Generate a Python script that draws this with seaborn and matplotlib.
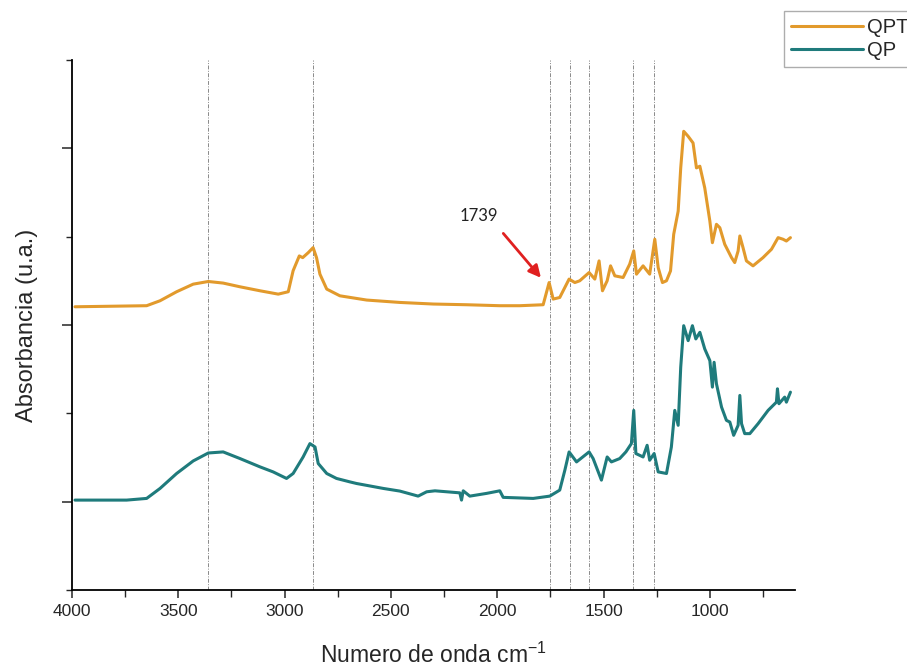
import numpy as np
import pandas as pd
import matplotlib
matplotlib.use("Agg")
import matplotlib.pyplot as plt
from matplotlib.ticker import MultipleLocator, FixedLocator, NullFormatter
import seaborn as sns

# FTIR spectra (wavenumber in cm-1, absorbance in arbitrary units)
qpt_wn = [3986, 3649, 3586, 3508, 3430, 3359, 3289, 3210, 3116, 3030, 2983, 2960, 2931, 2915,
          2889, 2866, 2850, 2834, 2802, 2740, 2614, 2458, 2301, 2144, 1988, 1894, 1784, 1756,
          1737, 1706, 1662, 1635, 1612, 1568, 1541, 1521, 1505, 1483, 1467, 1447, 1408, 1377,
          1358, 1345, 1314, 1283, 1259, 1243, 1223, 1204, 1185, 1170, 1149, 1137, 1123, 1102,
          1079, 1063, 1047, 1024, 1000, 988, 969, 953, 930, 898, 883, 867, 859, 844, 828, 797,
          750, 710, 679, 656, 640, 621]
qpt_abs = [3.206, 3.218, 3.274, 3.376, 3.462, 3.492, 3.474, 3.432, 3.387, 3.349, 3.376, 3.614,
           3.781, 3.762, 3.818, 3.875, 3.762, 3.575, 3.406, 3.330, 3.282, 3.255, 3.237, 3.229,
           3.218, 3.218, 3.229, 3.480, 3.293, 3.311, 3.519, 3.480, 3.500, 3.593, 3.519, 3.725,
           3.387, 3.500, 3.669, 3.556, 3.537, 3.688, 3.838, 3.575, 3.669, 3.575, 3.970, 3.649,
           3.480, 3.500, 3.612, 4.026, 4.288, 4.777, 5.191, 5.134, 5.059, 4.777, 4.796, 4.551,
           4.176, 3.931, 4.139, 4.100, 3.913, 3.762, 3.706, 3.838, 4.007, 3.875, 3.725, 3.669,
           3.762, 3.857, 3.988, 3.970, 3.950, 3.988]

qp_wn = [3986, 3743, 3649, 3586, 3508, 3430, 3359, 3289, 3210, 3116, 3054, 2991, 2960, 2913,
         2881, 2857, 2842, 2802, 2756, 2693, 2662, 2536, 2458, 2372, 2332, 2293, 2176, 2168,
         2160, 2129, 2050, 1988, 1972, 1831, 1753, 1706, 1682, 1662, 1627, 1568, 1549, 1510,
         1483, 1463, 1424, 1395, 1369, 1358, 1348, 1314, 1295, 1283, 1262, 1243, 1204, 1181,
         1165, 1149, 1137, 1123, 1102, 1082, 1066, 1047, 1024, 1000, 988, 980, 969, 945, 922,
         906, 888, 867, 859, 851, 836, 812, 773, 726, 687, 682, 675, 648, 640, 621]
qp_abs = [1.019, 1.019, 1.038, 1.151, 1.320, 1.462, 1.552, 1.564, 1.489, 1.395, 1.338, 1.264,
          1.320, 1.507, 1.658, 1.620, 1.433, 1.320, 1.264, 1.225, 1.207, 1.151, 1.121, 1.064,
          1.113, 1.124, 1.101, 1.019, 1.124, 1.064, 1.095, 1.124, 1.050, 1.038, 1.064, 1.132,
          1.357, 1.564, 1.451, 1.564, 1.489, 1.245, 1.507, 1.451, 1.489, 1.564, 1.658, 2.034,
          1.546, 1.507, 1.639, 1.470, 1.546, 1.338, 1.320, 1.620, 2.034, 1.865, 2.522, 2.992,
          2.823, 2.992, 2.842, 2.917, 2.729, 2.597, 2.297, 2.578, 2.335, 2.071, 1.921, 1.902,
          1.752, 1.865, 2.203, 1.884, 1.771, 1.771, 1.884, 2.034, 2.127, 2.278, 2.109, 2.184,
          2.127, 2.240]

# band positions marked with dash-dot lines
band_lines = [3359, 2865, 1750, 1660, 1570, 1360, 1265]

xticks_major = [4000, 3500, 3000, 2500, 2000, 1500, 1000]
yticks_major = [1, 3, 5]
yticks_minor = [0, 2, 4, 6]

orange = "#E29A2C"
teal = "#1F7B7C"

sns.set_style("ticks")
plt.rcParams['font.family'] = ['Liberation Sans', 'DejaVu Sans']

df = pd.concat([
    pd.DataFrame({'wn': qpt_wn, 'abs': qpt_abs, 'muestra': 'QPT'}),
    pd.DataFrame({'wn': qp_wn, 'abs': qp_abs, 'muestra': 'QP'}),
])

fig = plt.figure(figsize=(9.07, 6.68), dpi=100)
ax = fig.add_axes([0.0794, 0.1165, 0.797, 0.794])

sns.lineplot(data=df, x='wn', y='abs', hue='muestra', palette={'QPT': orange, 'QP': teal},
             estimator=None, linewidth=2.2, ax=ax, legend=False)

for b in band_lines:
    ax.axvline(b, color="#8a8a8a", linestyle=(0, (4, 1.5, 1, 1.5)), linewidth=0.7, zorder=0)

ax.set_xlim(4000, 600)
ax.set_ylim(0, 6)

ax.xaxis.set_major_locator(FixedLocator(xticks_major))
ax.xaxis.set_minor_locator(MultipleLocator(500, offset=250))
ax.yaxis.set_major_locator(FixedLocator(yticks_major))
ax.yaxis.set_minor_locator(FixedLocator(yticks_minor))
ax.yaxis.set_major_formatter(NullFormatter())
ax.tick_params(axis='x', which='major', length=6, width=1.1, labelsize=12.5, pad=4)
ax.tick_params(axis='x', which='minor', length=5, width=1.0)
ax.tick_params(axis='y', which='major', length=7, width=1.1)
ax.tick_params(axis='y', which='minor', length=4, width=1.0)

sns.despine(ax=ax)
for s in ['left', 'bottom']:
    ax.spines[s].set_linewidth(1.3)
    ax.spines[s].set_color('black')

ax.set_xlabel(r'Numero de onda cm$^{\mathregular{-1}}$', fontsize=16.5, labelpad=17)
ax.set_ylabel('Absorbancia (u.a.)', fontsize=17, labelpad=14)

# annotation for the carbonyl band
ax.annotate('', xy=(1786, 3.51), xytext=(1980, 4.06),
            arrowprops=dict(arrowstyle='-|>', color='#E02020', lw=2.0, mutation_scale=18))
ax.text(2087, 4.23, '1739', fontsize=12, family=['Lato', 'DejaVu Sans'],
        ha='center', va='center', color='#222222')

handles = [plt.Line2D([], [], color=orange, lw=2.2), plt.Line2D([], [], color=teal, lw=2.2)]
leg = fig.legend(handles, ['QPT', 'QP'], loc='upper left', bbox_to_anchor=(0.864, 0.983),
                 fontsize=14.5, frameon=True, fancybox=False, handlelength=3.6,
                 handletextpad=0.2, borderpad=0.35, labelspacing=0.2, borderaxespad=0)
leg.get_frame().set_edgecolor('#999999')
leg.get_frame().set_linewidth(1.0)

fig.savefig('out.png', dpi=100)
